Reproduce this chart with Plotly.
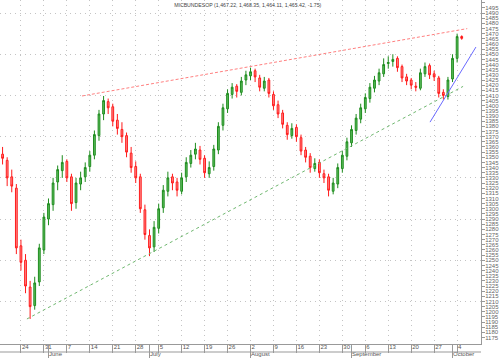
import plotly.graph_objects as go

# trading-day index (Monday 17 May = 0)
day_idx = list(range(102))
open_ = [1358,1353,1347,1331,1320,1264,1250,1224,1206,1229,1260,1290,1304,1326,1337,1346,1331,1306,1324,1331,
         1341,1352,1371,1392,1404,1399,1386,1377,1371,1354,1341,1331,1299,1274,1263,1281,1301,1317,1331,1326,
         1317,1331,1344,1353,1357,1349,1334,1341,1357,1381,1397,1411,1419,1413,1425,1429,1434,1427,1417,1425,
         1411,1401,1393,1381,1371,1379,1369,1357,1351,1339,1345,1334,1331,1317,1324,1339,1351,1364,1376,1387,
         1397,1407,1417,1424,1431,1441,1443,1446,1438,1428,1425,1419,1417,1431,1439,1431,1427,1413,1409,1426,
         1446,1467.22]
high_ = [1364,1360,1350,1338,1324,1270,1256,1230,1234,1266,1296,1310,1330,1342,1352,1348,1334,1330,1336,1345,
         1356,1376,1396,1409.5,1407,1402,1392,1384,1374,1360,1346,1334,1304,1280,1288,1305,1323,1336,1334,1330,
         1335,1350,1357,1364,1361,1352,1346,1362,1384,1402,1416,1422,1421,1428,1434,1437,1436,1430,1428,1427,
         1414,1405,1396,1384,1383,1382,1372,1360,1354,1349,1348,1338,1334,1330,1344,1356,1369,1381,1392,1402,
         1412,1422,1429,1436,1446,1448,1450,1448,1440,1431,1427,1423,1436,1442,1441,1434,1429,1416,1428,1450,
         1470,1468.35]
low_ = [1345,1343,1322,1316,1256,1240,1218,1193,1202,1225,1256,1284,1298,1318,1330,1326,1298,1300,1318,1326,
        1336,1348,1366,1386,1392,1380,1372,1364,1350,1335,1325,1296,1270,1254,1258,1276,1296,1312,1318,1312,
        1314,1326,1340,1348,1343,1330,1330,1337,1353,1376,1393,1407,1408,1410,1420,1425,1423,1414,1414,1408,
        1396,1388,1378,1367,1368,1365,1352,1345,1335,1336,1330,1325,1312,1314,1320,1335,1347,1360,1372,1383,
        1393,1403,1413,1420,1428,1436,1438,1433,1423,1420,1416,1414,1415,1428,1426,1424,1408,1406,1406,1423,
        1442,1464.11]
close_ = [1352,1349,1330,1322,1262,1248,1225,1205,1228,1262,1292,1305,1325,1338,1345,1330,1305,1325,1330,1340,
          1352,1372,1392,1405,1398,1385,1378,1370,1355,1340,1330,1300,1275,1262,1282,1300,1318,1330,1325,1318,
          1330,1345,1352,1358,1348,1335,1340,1358,1380,1398,1412,1418,1414,1424,1430,1433,1428,1418,1424,1412,
          1400,1392,1382,1372,1378,1370,1356,1350,1340,1344,1335,1330,1318,1325,1340,1352,1365,1377,1388,1398,
          1408,1418,1425,1432,1440,1442,1445,1437,1427,1424,1420,1418,1432,1438,1430,1428,1412,1410,1425,1446,
          1467.17,1465.42]

# weekly tick labels (Mondays) and month starts
week_pos = [0,5,10,15,20,25,30,35,40,45,50,55,60,65,70,75,80,85,90,95,100]
week_lbl = ["17","24","31","7","14","21","28","5","12","19","26","2","9","16","23","30","6","13","20","27","4"]
month_pos = [11,33,55,77,99]
month_lbl = ["June","July","August","September","October"]

# price axis labels
price_ticks = list(range(1175, 1505, 5))
grid_vals = [1210,1250,1290,1330,1370,1410,1450,1490]

# trend lines (day index, price)
res_x = [18.3, 102.2]; res_y = [1409.5, 1474.9]
sup_x = [6.3, 101.3];  sup_y = [1193.0, 1418.8]
blu_x = [94.1, 104.1]; blu_y = [1384.1, 1457.0]

title_txt = "MICBUNDESOP (1,467.22, 1,468.35, 1,464.11, 1,465.42, -1.75)"

fig = go.Figure()
fig.add_trace(go.Candlestick(
    x=day_idx, open=open_, high=high_, low=low_, close=close_,
    increasing=dict(line=dict(color="#1e8c1e", width=1), fillcolor="#5fbf5f"),
    decreasing=dict(line=dict(color="#ff1a1a", width=1), fillcolor="#ff8c8c"),
    whiskerwidth=0, showlegend=False, hoverinfo="skip"))
fig.add_trace(go.Scatter(x=res_x, y=res_y, mode="lines",
    line=dict(color="#ff8080", width=1, dash="3px,2px"), showlegend=False, hoverinfo="skip"))
fig.add_trace(go.Scatter(x=sup_x, y=sup_y, mode="lines",
    line=dict(color="#70b870", width=1, dash="3px,3px"), showlegend=False, hoverinfo="skip"))
fig.add_trace(go.Scatter(x=blu_x, y=blu_y, mode="lines", xaxis="x2",
    line=dict(color="#6a6aff", width=1), showlegend=False, hoverinfo="skip"))

xr = [0.44, 105.2]
fig.update_layout(
    width=500, height=358,
    margin=dict(l=0, r=19, t=0, b=14, pad=0),
    paper_bgcolor="white", plot_bgcolor="white",
    boxgap=0.45,
    font=dict(family="Liberation Sans, Arial, sans-serif", size=6, color="#555555"),
    title=dict(text=title_txt, x=0.515, xref="paper", xanchor="center",
               y=0.986, yref="container", yanchor="middle", automargin=False,
               font=dict(size=5.2, color="#444444")),
    xaxis=dict(range=xr, tickmode="array", tickvals=week_pos, ticktext=week_lbl,
               automargin=False,
               showgrid=True, gridcolor="#c4c4c4", griddash="1px,4px", gridwidth=1,
               zeroline=False, showline=True, linecolor="#999999", linewidth=1,
               ticks="outside", ticklen=8, tickcolor="#999999", tickwidth=1,
               ticklabelposition="outside right", ticklabelstandoff=-3,
               tickfont=dict(size=6, color="#555555"),
               rangeslider=dict(visible=False), fixedrange=True),
    xaxis2=dict(range=xr, overlaying="x", matches="x", side="bottom", anchor="y",
                automargin=False,
                tickmode="array", tickvals=month_pos, ticktext=month_lbl,
                showgrid=False, zeroline=False, showline=False,
                ticks="outside", ticklen=14, tickcolor="#999999", tickwidth=1,
                ticklabelposition="outside right", ticklabelstandoff=4,
                tickfont=dict(size=6, color="#555555")),
    yaxis=dict(range=[1168.7, 1502.67], side="right", tickmode="array",
               automargin=False,
               tickvals=price_ticks, ticktext=[str(v) for v in price_ticks],
               showgrid=False, zeroline=False, showline=True, linecolor="#999999",
               ticks="outside", ticklen=3, tickcolor="#999999",
               ticklabelstandoff=-1,
               tickfont=dict(size=6, color="#666666"),
               minor=dict(tickmode="array", tickvals=grid_vals, showgrid=True,
                          gridcolor="#c4c4c4", griddash="1px,4px", ticks=""),
               fixedrange=True),
    shapes=[dict(type="line", xref="paper", yref="paper", x0=0, x1=1,
                 y0=-0.0233, y1=-0.0233, line=dict(color="#999999", width=1))],
)
fig.write_html("out.html", config={"displayModeBar": False, "staticPlot": True},
               post_script="document.body.style.margin='0';document.body.style.padding='0';"
                           "document.documentElement.style.overflow='hidden';")
